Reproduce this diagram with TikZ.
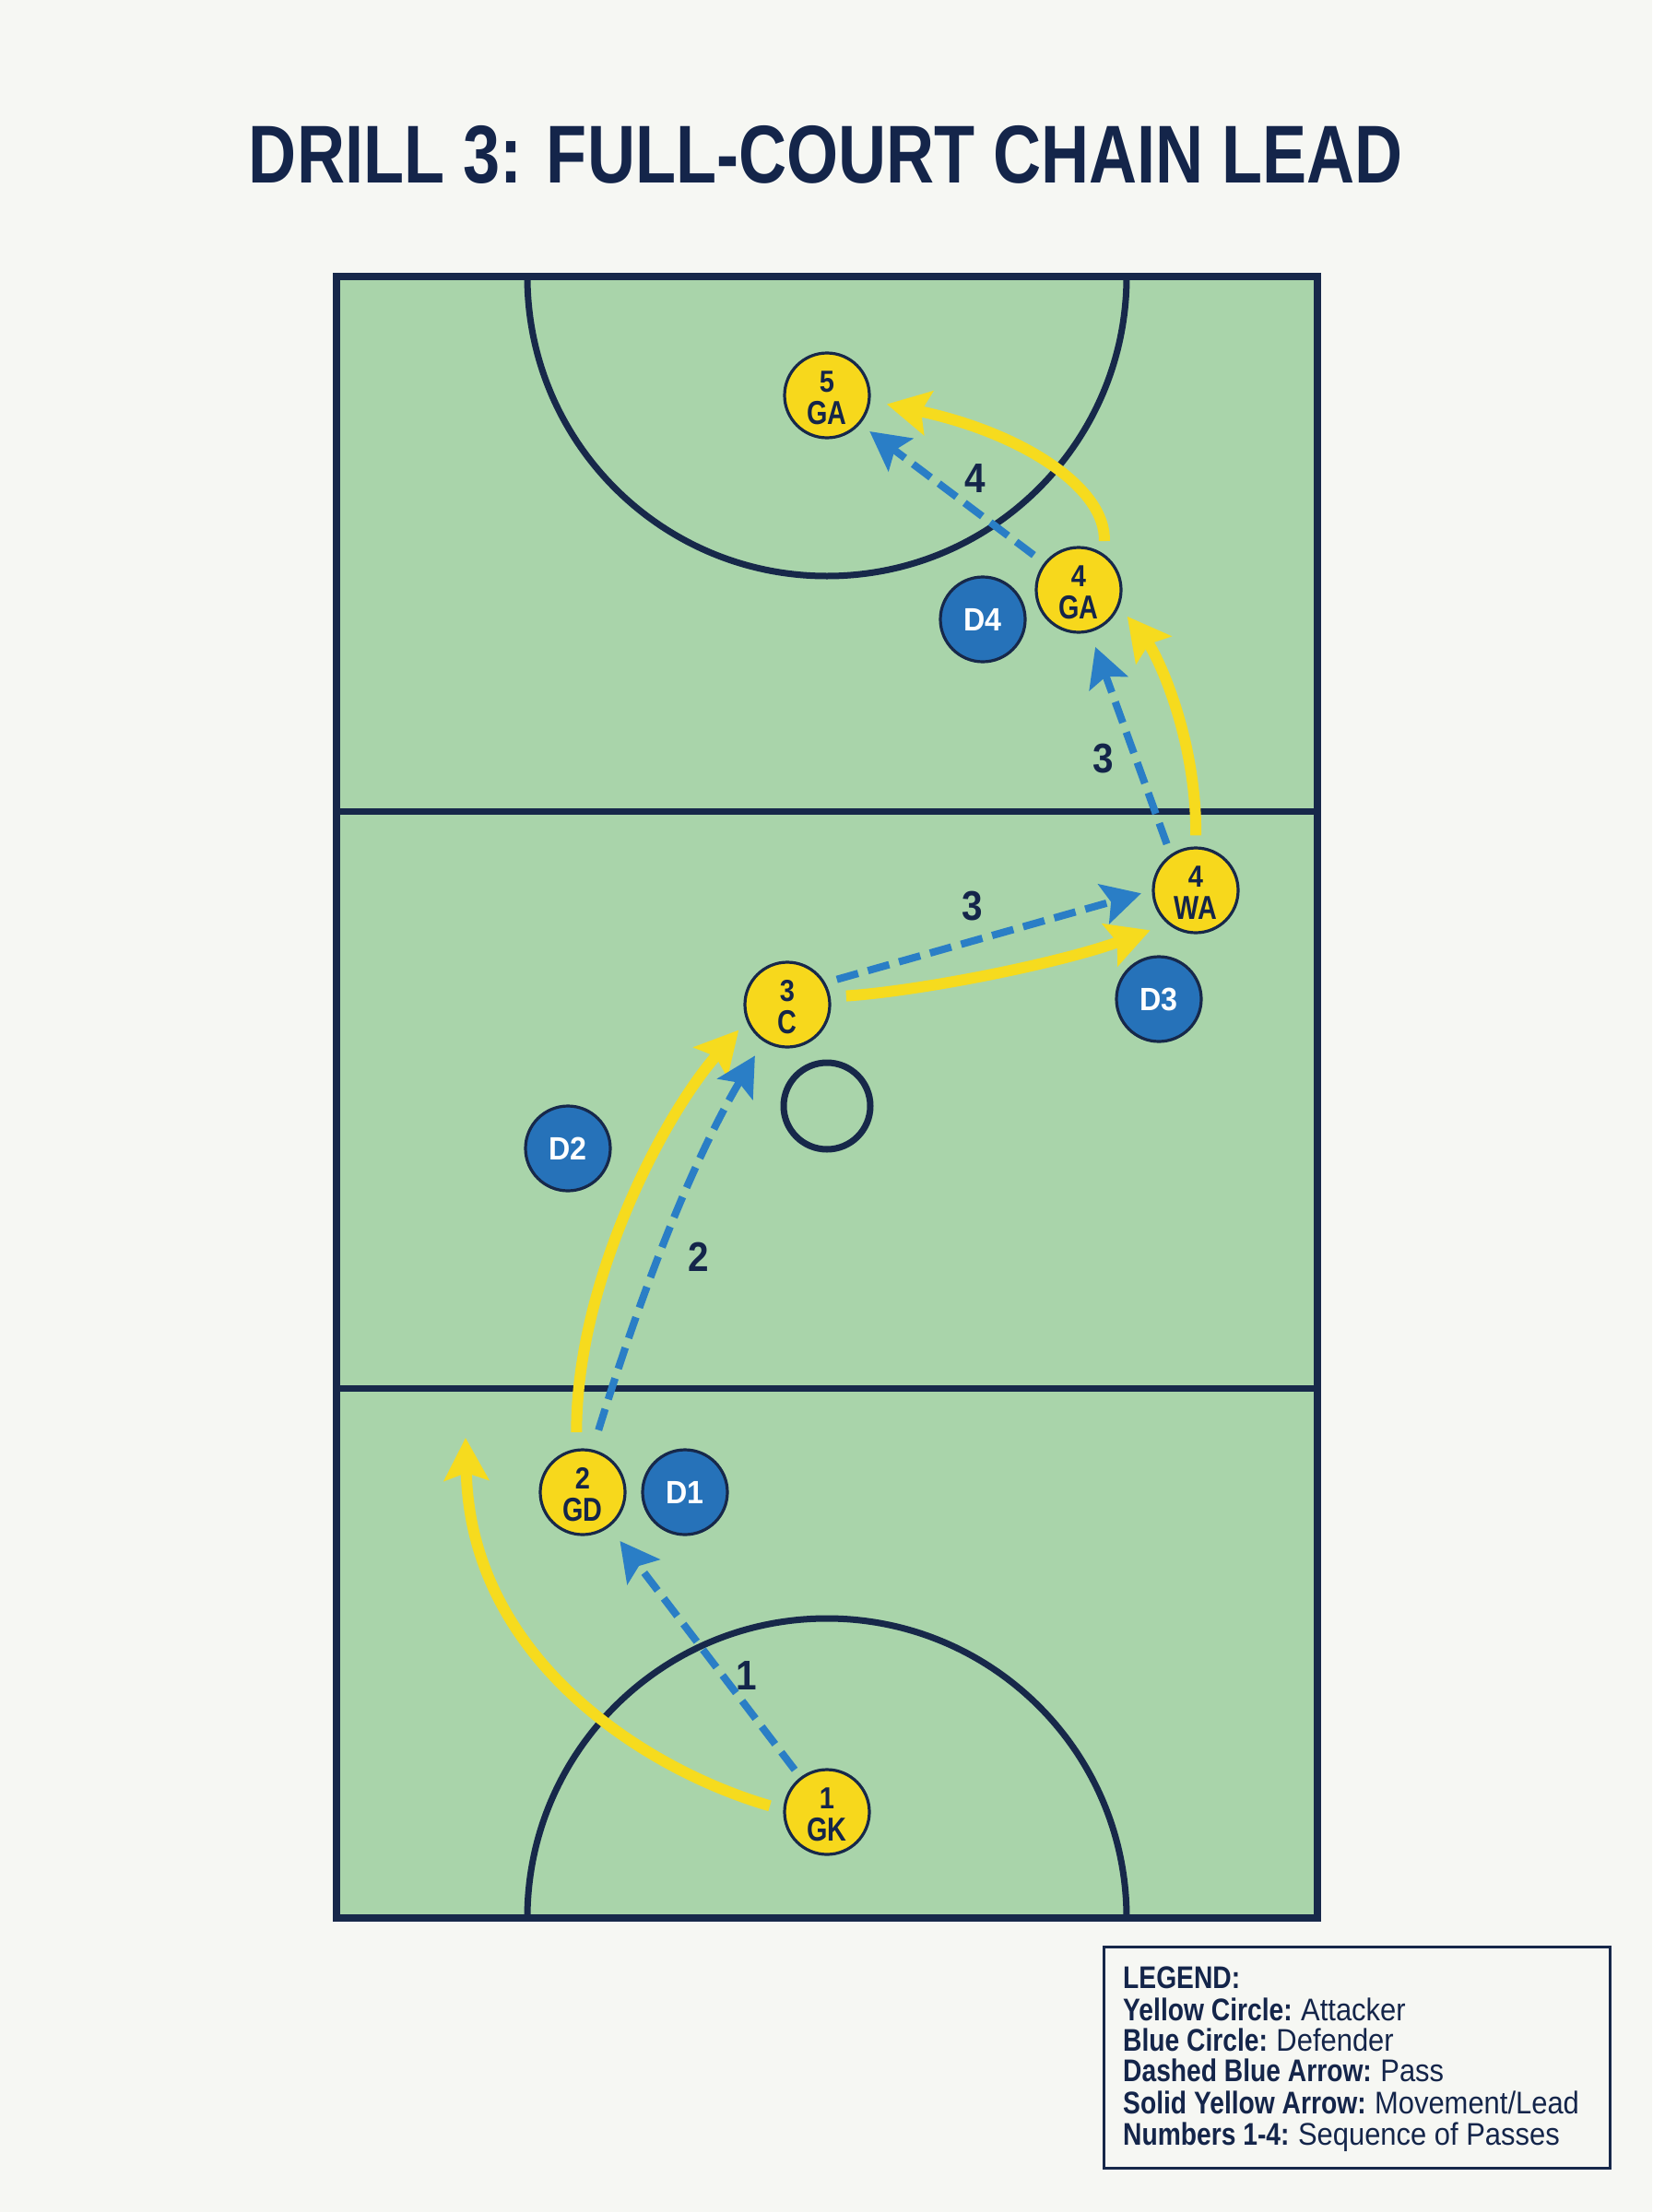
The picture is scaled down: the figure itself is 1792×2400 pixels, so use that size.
\documentclass[tikz,border=0pt]{standalone}
\usepackage{fontspec}
\setmainfont{Liberation Sans}
\usepackage{graphicx}
\usetikzlibrary{arrows.meta}
\definecolor{bgc}{HTML}{F6F7F3}
\definecolor{courtg}{HTML}{A9D4AA}
\definecolor{navy}{HTML}{17284A}
\definecolor{txt}{HTML}{14254A}
\definecolor{ylw}{HTML}{F7D81C}
\definecolor{ylwA}{HTML}{F6DB1E}
\definecolor{dblue}{HTML}{2672B9}
\definecolor{pblue}{HTML}{2A7EC6}
\newcommand\dlab[1]{\raisebox{0pt}[25pt][0pt]{\scalebox{0.92}[1]{#1}}}
\newcommand\slab[1]{\raisebox{0pt}[32pt][0pt]{\scalebox{0.9}[1]{#1}}}
\newcommand\legl[2]{{\bfseries\scalebox{0.83}[1]{#1}} \scalebox{0.91}[1]{#2}}
\newcommand\attk[4]{%
  \node[attacker] (#1) at (#2) {};
  \node[numtxt] (#1n) at ([yshift=4pt]#1.center) {\scalebox{0.88}[1]{#3}};
  \node[lettxt] (#1l) at ([yshift=-31pt]#1.center) {\scalebox{0.8}[1]{#4}};
}
\begin{document}
\begin{tikzpicture}[x=1pt,y=-1pt,
  court/.style={draw=navy,line width=7pt},
  attacker/.style={circle,fill=ylw,draw=navy,line width=3.2pt,minimum size=92pt,inner sep=0pt},
  numtxt/.style={anchor=base,inner sep=0pt,text=txt,font=\fontsize{33}{33}\selectfont\bfseries},
  lettxt/.style={anchor=base,inner sep=0pt,text=txt,font=\fontsize{36}{36}\selectfont\bfseries},
  defender/.style={circle,fill=dblue,draw=navy,line width=3.2pt,minimum size=92pt,inner sep=0pt,text=white,font=\fontsize{35}{40}\selectfont\bfseries},
  pass/.style={draw=pblue,line width=8pt,dash pattern=on 24pt off 11pt,-{Stealth[length=42pt,width=44pt,inset=8pt]}},
  move/.style={draw=ylwA,line width=12pt,-{Stealth[length=46pt,width=48pt,inset=8pt]}},
  seq/.style={text=txt,font=\fontsize{45}{45}\selectfont\bfseries,inner sep=0pt},
  leg/.style={anchor=base west,text=txt,inner sep=0pt,font=\fontsize{34}{36}\selectfont}
]
\fill[bgc] (0,0) rectangle (1792,2400);
\useasboundingbox (0,0) rectangle (1792,2400);
% title
\node[anchor=base,text=txt,inner sep=0pt] (title) at (896,199) {\scalebox{0.81}[1]{\fontsize{89}{90}\selectfont\bfseries DRILL 3: FULL-COURT CHAIN LEAD}};
% court
\fill[courtg] (365,300) rectangle (1429,2081);
\draw[court] (572,300) arc[start angle=180,end angle=0,radius=325];
\draw[court] (572,2081) arc[start angle=180,end angle=360,radius=325];
\draw[court] (365,880) -- (1429,880);
\draw[court] (365,1506) -- (1429,1506);
\draw[court] (897,1200) circle[radius=47];
\draw[court,line width=8.5pt] (365,300) rectangle (1429,2081);
% players
\attk{ga5}{897,429}{5}{GA}
\attk{ga4}{1170,640}{4}{GA}
\node[defender] (d4) at (1066,672) {\dlab{D4}};
\attk{wa}{1297,966}{4}{WA}
\node[defender] (d3) at (1257,1084) {\dlab{D3}};
\attk{c}{854,1090}{3}{C}
\node[defender] (d2) at (616,1246) {\dlab{D2}};
\attk{gd}{632,1619}{2}{GD}
\node[defender] (d1) at (743,1619) {\dlab{D1}};
\attk{gk}{897,1966}{1}{GK}
% arrows
\coordinate (m1) at (505,1560);
\draw[pass, shorten <=10pt, shorten >=19pt] (gk) -- (gd);
\draw[move, shorten <=15pt] (gk.177) .. controls (700,1920) and (510,1800) .. (m1);
\draw[move, shorten <=18pt, shorten >=13pt] (gd.98) .. controls (625,1390) and (720,1210) .. (c.202);
\draw[pass, shorten <=22pt, shorten >=18pt] (gd.77) .. controls (690,1420) and (745,1270) .. (c.237);
\draw[pass, shorten <=13pt, shorten >=12pt] (c.30) -- (wa.180);
\draw[move, shorten <=17pt, shorten >=20pt] (c.10) .. controls (1000,1075) and (1150,1045) .. (wa.230);
\draw[pass, shorten <=12pt, shorten >=17pt] (wa.125) -- (ga4.285);
\draw[move, shorten <=12pt, shorten >=14pt] (wa.90) .. controls (1298,800) and (1255,710) .. (ga4.338);
\draw[pass, shorten <=14pt, shorten >=13pt] (ga4.142) -- (ga5.319);
\draw[move, shorten <=14pt, shorten >=18pt] (ga4.55) .. controls (1200,530) and (1110,470) .. (ga5.353);
% sequence numbers
\node[seq] (n1) at (810,1817) {\slab{1}};
\node[seq] (n2) at (758,1363) {\slab{2}};
\node[seq] (n3a) at (1055,982) {\slab{3}};
\node[seq] (n3b) at (1197,822) {\slab{3}};
\node[seq] (n4) at (1058,518) {\slab{4}};
% legend
\draw[navy,line width=3pt,fill=bgc] (1197,2112) rectangle (1746,2352);
\node[leg] (l0) at (1218,2157) {\bfseries\scalebox{0.83}[1]{LEGEND:}};
\node[leg] (l1) at (1218,2192) {\legl{Yellow Circle:}{Attacker}};
\node[leg] (l2) at (1218,2225) {\legl{Blue Circle:}{Defender}};
\node[leg] (l3) at (1218,2258) {\legl{Dashed Blue Arrow:}{Pass}};
\node[leg] (l4) at (1218,2293) {\legl{Solid Yellow Arrow:}{Movement/Lead}};
\node[leg] (l5) at (1218,2327) {\legl{Numbers 1-4:}{Sequence of Passes}};
\end{tikzpicture}
\end{document}
